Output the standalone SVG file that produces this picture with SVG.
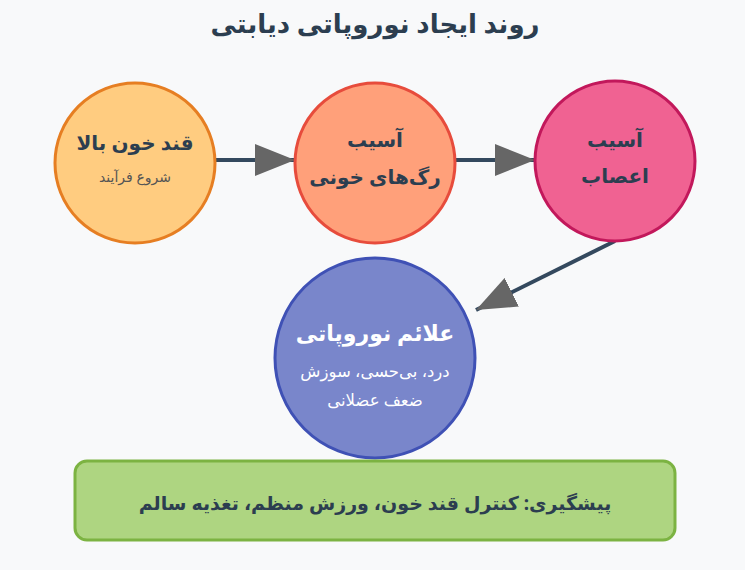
<svg xmlns="http://www.w3.org/2000/svg" width="745" height="570" viewBox="0 0 745 570">
<defs>
<marker id="ah" markerWidth="10" markerHeight="8" refX="10" refY="4" orient="auto" markerUnits="strokeWidth">
<path d="M0,0 L10,4 L0,8 Z" fill="#666666"/>
</marker>
<style>
text{font-family:"Noto Sans","DejaVu Sans",sans-serif;text-anchor:middle;direction:rtl;fill:#2C3E50}
.t{font-size:26px;font-weight:bold}
.h{font-size:20px;font-weight:bold}
.m{font-size:20px;font-weight:bold}
.s{font-size:14px;fill:#555}
.w{fill:#fff}
.conn line{stroke:#34495E;stroke-width:4;marker-end:url(#ah)}
</style>
</defs>
<rect width="745" height="570" fill="#F8F9FA"/>
<text class="t" x="375" y="33">روند ایجاد نوروپاتی دیابتی</text>
<g class="conn">
<line x1="215" y1="160" x2="295" y2="160"/>
<line x1="455" y1="160" x2="535" y2="160"/>
<line x1="615" y1="241" x2="476" y2="310"/>
</g>
<g id="n1">
<circle cx="135" cy="163" r="80" fill="#FFCC80" stroke="#E67E22" stroke-width="3"/>
<text class="h" x="135" y="150">قند خون بالا</text>
<text class="s" x="135" y="182">شروع فرآیند</text>
</g>
<g id="n2">
<circle cx="375" cy="163" r="80" fill="#FFA07A" stroke="#E74C3C" stroke-width="3"/>
<text class="m" x="375" y="147">آسیب</text>
<text class="m" x="375" y="184">رگ‌های خونی</text>
</g>
<g id="n3">
<circle cx="615" cy="161" r="80" fill="#F06292" stroke="#C2185B" stroke-width="3"/>
<text class="m" x="615" y="147">آسیب</text>
<text class="m" x="615" y="183">اعصاب</text>
</g>
<g id="n4">
<circle cx="375" cy="358" r="100" fill="#7986CB" stroke="#3F51B5" stroke-width="3"/>
<text class="h w" x="375" y="341" style="font-size:22px">علائم نوروپاتی</text>
<text class="w" x="375" y="377" style="font-size:16.5px">درد، بی‌حسی، سوزش</text>
<text class="w" x="375" y="406" style="font-size:16.5px">ضعف عضلانی</text>
</g>
<g id="n5">
<rect x="75" y="461" width="600" height="79" rx="12" fill="#AED581" stroke="#7CB342" stroke-width="3"/>
<text class="m" x="375" y="510" style="font-size:19px">پیشگیری: کنترل قند خون، ورزش منظم، تغذیه سالم</text>
</g>
</svg>
